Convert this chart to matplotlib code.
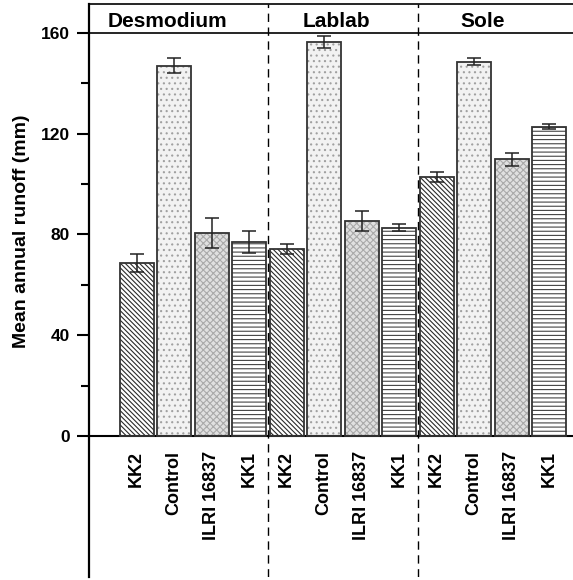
import numpy as np
import matplotlib
matplotlib.use("Agg")
import matplotlib.pyplot as plt
from matplotlib.ticker import FixedLocator

# mean annual runoff (mm) and error bars
systems = ["Desmodium", "Lablab", "Sole"]
varieties = ["KK2", "Control", "ILRI 16837", "KK1"]
desmodium = [68.6, 147.0, 80.6, 77.0]
desmodium_err = [3.5, 3.0, 6.0, 4.5]
lablab = [74.3, 156.4, 85.3, 82.7]
lablab_err = [2.0, 2.5, 4.0, 1.4]
sole = [102.7, 148.6, 109.8, 122.8]
sole_err = [2.0, 1.5, 2.5, 0.9]

plt.rcParams['font.family'] = ['Liberation Sans', 'DejaVu Sans']
plt.rcParams['font.weight'] = 'bold'
plt.rcParams['hatch.linewidth'] = 0.8

# style per variety: facecolor, hatch, hatch colour
styles = {
    "KK2": ("white", "\\\\\\\\\\\\\\", "#2a2a2a"),
    "Control": ("#f2f2f2", "...", "#a0a0a0"),
    "ILRI 16837": ("#e0e0e0", "xxxxx", "#aaaaaa"),
    "KK1": ("white", "----", "#444444"),
}

values = desmodium + lablab + sole
errors = desmodium_err + lablab_err + sole_err
labels = varieties * len(systems)
x = np.arange(len(values))

fig = plt.figure(figsize=(5.73, 5.80), dpi=100)
ax = fig.add_axes([89 / 573, 3 / 580, 1 - 89 / 573, 573 / 580])

for xi, v, lab in zip(x, values, labels):
    fc, hatch, hc = styles[lab]
    ax.bar(xi, v, width=0.907, color=fc, hatch=hatch, edgecolor=hc, linewidth=0, zorder=2)
    ax.bar(xi, v, width=0.907, fill=False, edgecolor="#333333", linewidth=1.3, zorder=3)

ax.errorbar(x, values, yerr=errors, fmt='none', ecolor='#222222', elinewidth=1.1,
            capsize=4.7, capthick=1.1, zorder=4)

ax.set_xlim(-1.272, 11.635)
ax.set_ylim(-56, 171.5)

# group dividers and header row
for xd in [3.5, 7.5]:
    ax.axvline(xd, color='black', lw=1.0, ls=(0, (6, 4)), zorder=5)
ax.axhline(160, color='black', lw=1.2, zorder=5)
header_x = [0.83, 5.33, 9.23]
for hx, name in zip(header_x, systems):
    ax.text(hx, 164.6, name, ha='center', va='center', fontsize=15, fontweight='bold')

ax.spines['right'].set_visible(False)
ax.spines['bottom'].set_position(('data', 0))
ax.spines['bottom'].set_linewidth(1.5)
ax.spines['left'].set_linewidth(1.6)
ax.spines['top'].set_linewidth(1.2)

ax.set_xticks(x)
ax.set_xticklabels(labels, rotation=90, fontsize=13, fontweight='bold', va='top')
ax.tick_params(axis='x', length=0, pad=11)

ax.set_yticks([0, 40, 80, 120, 160])
ax.yaxis.set_minor_locator(FixedLocator([20, 60, 100, 140]))
ax.tick_params(axis='y', which='major', direction='out', length=9, width=1.5, pad=5, labelsize=12.5)
ax.tick_params(axis='y', which='minor', direction='out', length=5.5, width=1.5)
for t in ax.get_yticklabels():
    t.set_fontweight('bold')

fig.text(22 / 573, 1 - 231.5 / 580, "Mean annual runoff (mm)", rotation=90,
         ha='center', va='center', fontsize=14, fontweight='bold')

fig.savefig("out.png", dpi=100)
